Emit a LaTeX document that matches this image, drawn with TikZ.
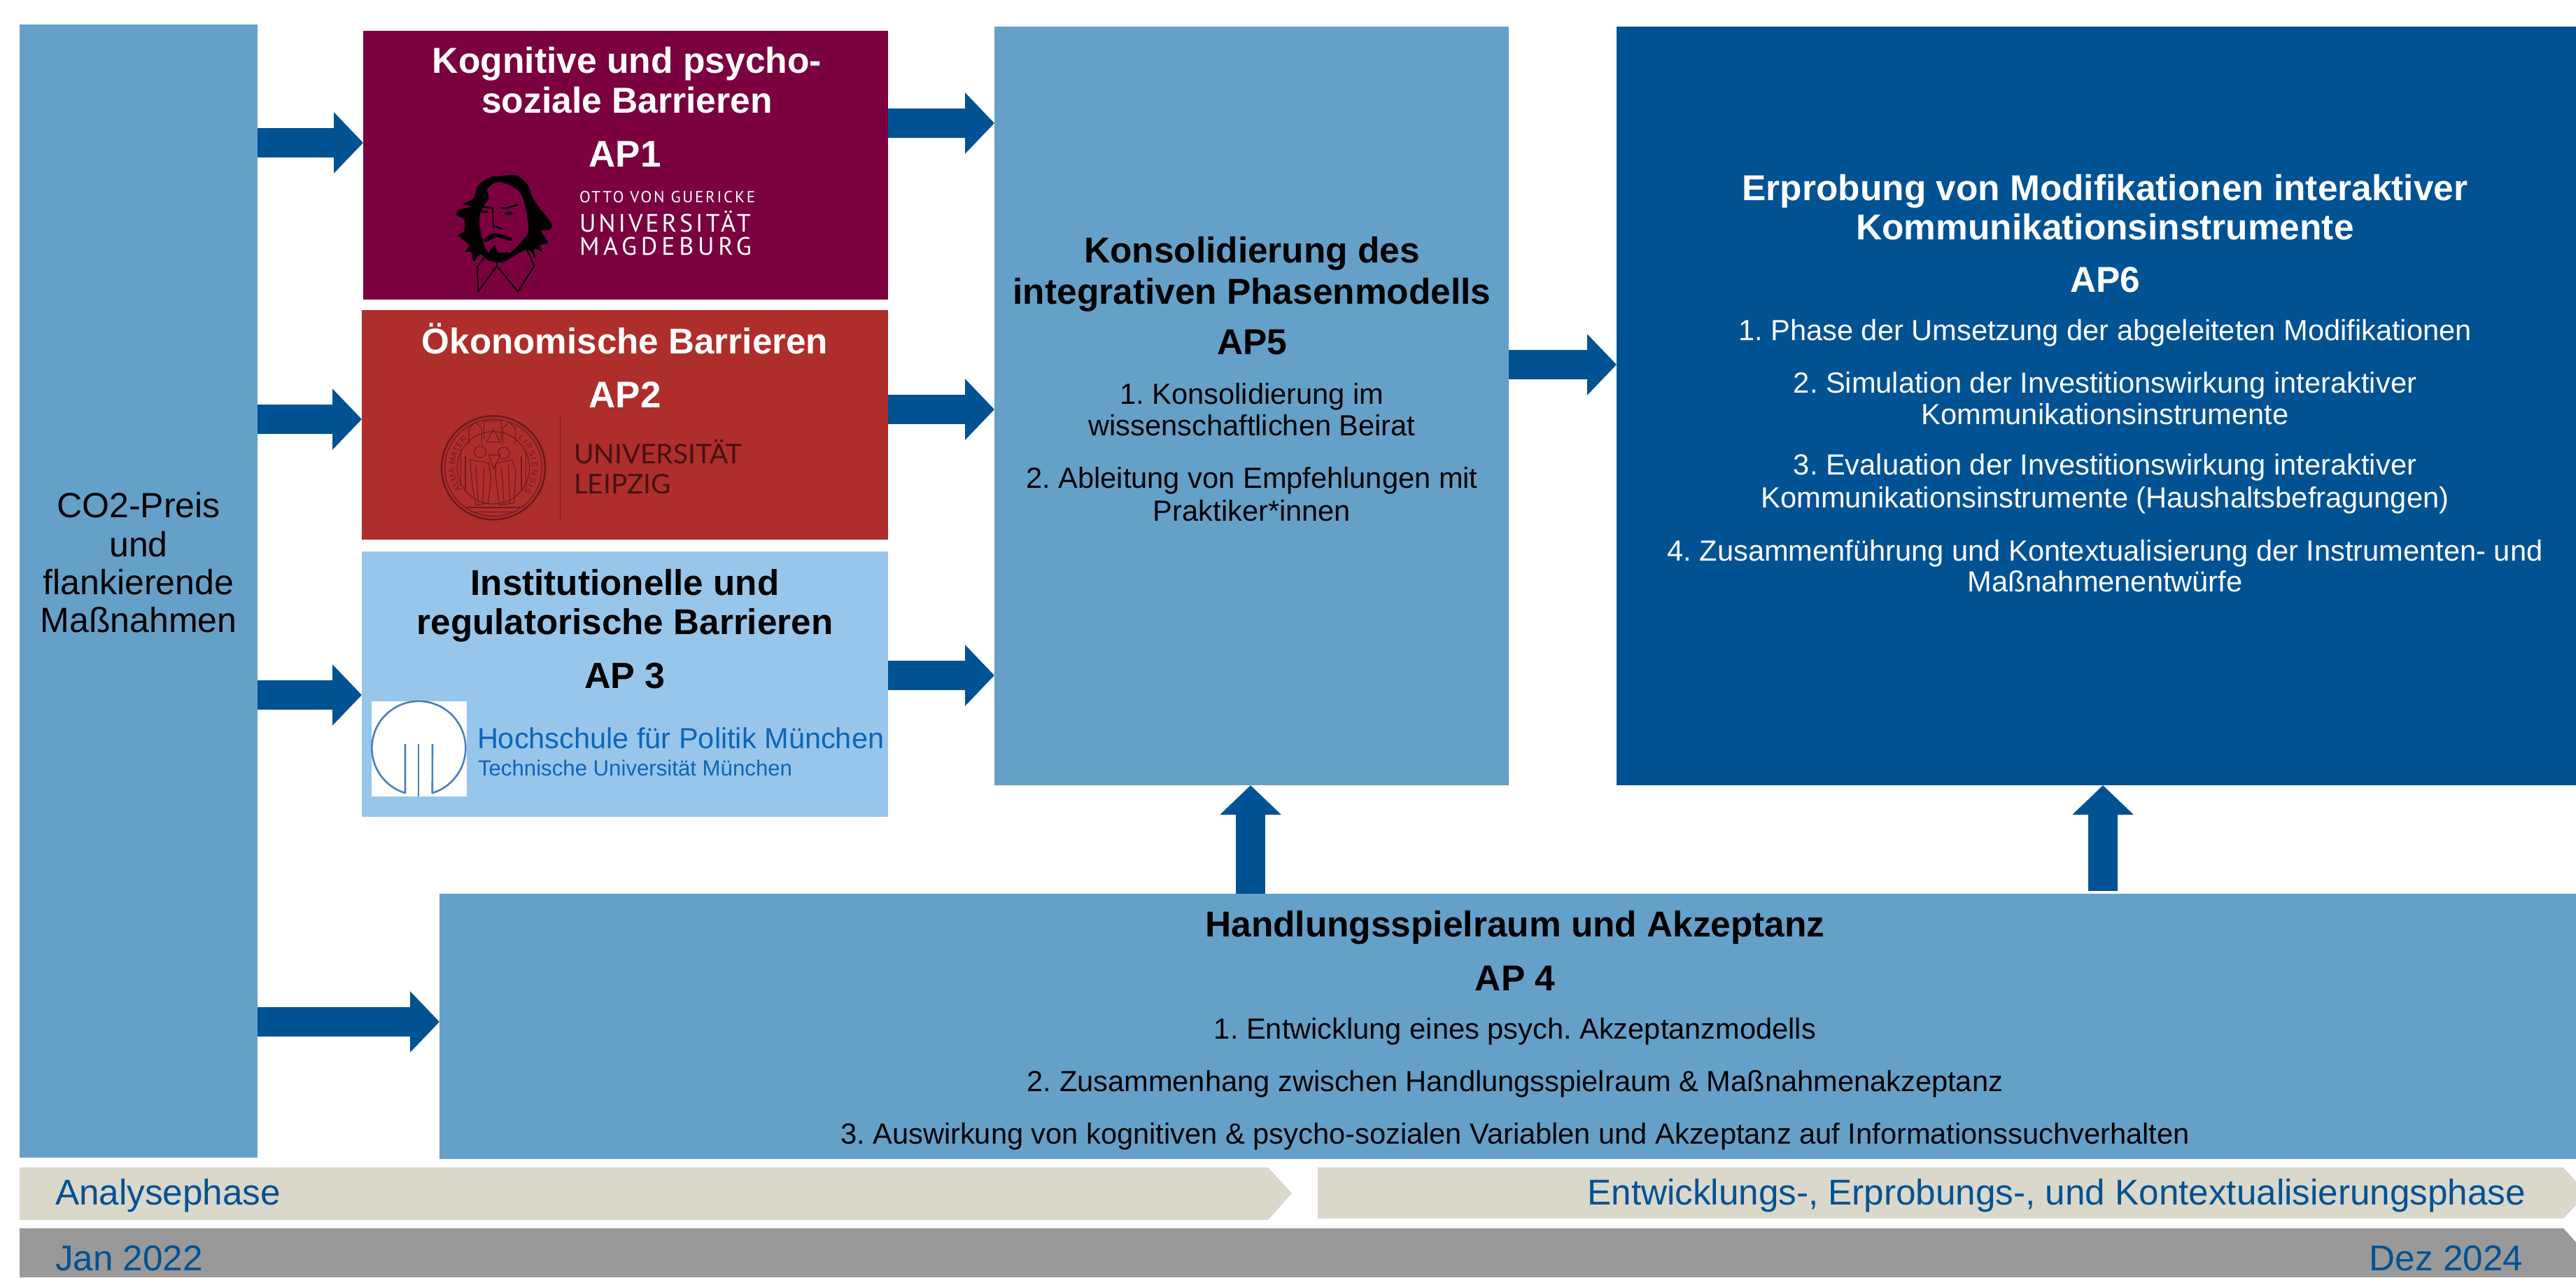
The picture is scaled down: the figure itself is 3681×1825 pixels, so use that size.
\documentclass[tikz,border=0pt]{standalone}
\usepackage{fontspec}
\setmainfont{Liberation Sans}
\usetikzlibrary{arrows.meta,calc,decorations.text}
\definecolor{lblue}{HTML}{65A0C9}
\definecolor{dblue}{HTML}{005293}
\definecolor{maroon}{HTML}{7A003F}
\definecolor{brick}{HTML}{AE2E2B}
\definecolor{skyb}{HTML}{98C6EA}
\definecolor{beige}{HTML}{DAD7CB}
\definecolor{greyb}{HTML}{999999}
\definecolor{sealc}{HTML}{6E1A1C}
\definecolor{hfpt}{HTML}{0D65B8}
\definecolor{hfpl}{HTML}{4A80B8}
\newcommand{\pxbox}[6]{\node[pbox,fill=#6,minimum width={(#4-#2)*0.5pt},minimum height={(#5-#3)*0.5pt}] (#1) at ({(#2+#4)/2},{(#3+#5)/2}) {};}
\tikzset{
  pbox/.style={rectangle,draw=none,inner sep=0pt,outer sep=0pt},
  tx/.style={inner sep=0pt,outer sep=0pt,anchor=center,font=\frenchspacing\fontsize{#1}{#1}\selectfont,text height=#1*0.72pt,text depth=#1*0.0pt},
  txb/.style={tx=#1,font=\frenchspacing\fontsize{#1}{#1}\selectfont\bfseries},
  blockarr/.style={draw=dblue,line width=21pt,-{Triangle[length=21pt,width=42.5pt,fill=dblue]}},
  sealline/.style={draw=sealc,line width=0.55pt,line join=round},
}
\begin{document}
\begin{tikzpicture}[x=0.5pt,y=-0.5pt]
\useasboundingbox (0,0) rectangle (3681,1825);
\fill[white] (0,0) rectangle (3681,1825);
% boxes
\pxbox{co2}{28}{35}{368}{1654}{lblue}
\pxbox{ap1}{519}{44}{1269}{428}{maroon}
\pxbox{ap2}{517}{443}{1269}{771}{brick}
\pxbox{ap3}{517}{788}{1269}{1167}{skyb}
\pxbox{ap5}{1421}{38}{2156}{1122}{lblue}
\pxbox{ap6}{2310}{38}{3681}{1122}{dblue}
\pxbox{ap4}{628}{1277}{3681}{1656}{lblue}
% phase bars
\fill[beige] (28,1668) -- (1812,1668) -- (1846,1705) -- (1812,1743) -- (28,1743) -- cycle;
\fill[beige] (1883,1668) -- (3663,1668) -- (3681,1688) -- (3681,1722) -- (3663,1741) -- (1883,1741) -- cycle;
\fill[greyb] (28,1755) -- (3663,1755) -- (3681,1775) -- (3681,1825) -- (28,1825) -- cycle;
% arrow rows
\coordinate (r1) at (0,204);
\coordinate (r2) at (0,599);
\coordinate (r3) at (0,993);
\coordinate (r4) at (0,1460);
\coordinate (s1) at (0,176);
\coordinate (s2) at (0,585);
\coordinate (s3) at (0,965);
\coordinate (t1) at (0,521);
\coordinate (c1) at (1787,0);
\coordinate (c2) at (3005,0);
\draw[blockarr] (co2.east |- r1) -- (ap1.west |- r1);
\draw[blockarr] (co2.east |- r2) -- (ap2.west |- r2);
\draw[blockarr] (co2.east |- r3) -- (ap3.west |- r3);
\draw[blockarr] (co2.east |- r4) -- (ap4.west |- r4);
\draw[blockarr] (ap1.east |- s1) -- (ap5.west |- s1);
\draw[blockarr] (ap2.east |- s2) -- (ap5.west |- s2);
\draw[blockarr] (ap3.east |- s3) -- (ap5.west |- s3);
\draw[blockarr] (ap5.east |- t1) -- (ap6.west |- t1);
\draw[blockarr] (ap4.north -| c1) -- (ap5.south -| c1);
\draw[blockarr,shorten <=2pt] (ap4.north -| c2) -- (ap6.south -| c2);
% left box
\node[tx=25] (l1) at (198,721) {CO2-Preis};
\node[tx=25] (l2) at (198,777) {und};
\node[tx=25] (l3) at (198,831) {flankierende};
\node[tx=25] (l4) at (198,885) {Maßnahmen};
% AP1
\node[txb=25.8,text=white] (a1a) at (896,86) {Kognitive und psycho-};
\node[txb=25.8,text=white] (a1b) at (896,143) {soziale Barrieren};
\node[txb=26.5,text=white] (a1c) at (893,219) {AP1};
\begin{scope}[shift={(640,240)},x=0.16667pt,y=-0.16667pt]
\fill[black] plot[smooth cycle,tension=0.5] coordinates {(225,35)(290,30)(340,70)(365,130)(400,180)(445,240)(435,265)(400,270)(430,320)(395,330)(405,360)(370,345)(375,385)(340,350)(280,380)(230,405)(170,395)(140,370)(110,400)(100,360)(75,360)(90,330)(45,290)(70,270)(70,220)(40,205)(45,180)(105,165)(65,155)(110,130)(130,75)(180,40)};
\fill[maroon] plot[smooth cycle,tension=0.6] coordinates {(170,90)(220,60)(300,95)(330,160)(345,265)(320,310)(270,360)(230,370)(170,360)(135,240)(150,170)(175,130)};
\fill[black] plot[smooth cycle,tension=0.6] coordinates {(155,305)(200,280)(270,300)(265,312)(210,297)(165,317)};
\fill[black] plot[smooth cycle,tension=0.5] coordinates {(165,385)(200,330)(215,362)(262,362)(240,395)(200,402)};
\fill[black] (158,188) ellipse[x radius=15,y radius=6];
\fill[black] (262,195) ellipse[x radius=18,y radius=6];
\draw[black,line width=1.2pt] (148,165) to[out=-20,in=160] (190,172);
\draw[black,line width=1.2pt] (228,172) to[out=-10,in=190] (300,158);
\draw[black,line width=0.8pt] (192,170) -- (195,255) to[out=60,in=180] (235,262);
\draw[black,line width=0.9pt,line join=round] (155,385) -- (125,425) -- (130,530) -- (210,420) -- (300,530) -- (370,420) -- (338,350);
\draw[black,line width=0.9pt] (210,405) -- (210,420);
\end{scope}
\node[tx=11.5,text=white,anchor=west] (m1) at (828,281) {\fontspec{PT Sans}[LetterSpace=12]OTTO VON GUERICKE};
\node[tx=18,text=white,anchor=west] (m2) at (828,319) {\fontspec{PT Sans}[LetterSpace=11]UNIVERSITÄT};
\node[tx=18,text=white,anchor=west] (m3) at (828,352) {\fontspec{PT Sans}[LetterSpace=16]MAGDEBURG};
% AP2
\node[txb=25.6,text=white] (a2a) at (893,487) {Ökonomische Barrieren};
\node[txb=26.5,text=white] (a2b) at (893,563) {AP2};
\begin{scope}[shift={(620,585)},x=0.16667pt,y=-0.16667pt]
\draw[sealc,line width=1.3pt] (255,250) circle[radius=222];
\draw[sealc,line width=0.6pt] (255,250) circle[radius=208];
\draw[sealc,line width=0.6pt] (255,250) circle[radius=155];
\path[decorate,decoration={text along path,text align={fit to path},text={|\fontsize{6}{6}\selectfont\color{sealc}|ALMA MATER}}]
  (255,250) ++(145:165) arc[start angle=145,end angle=228,radius=165];
\path[decorate,decoration={text along path,text align={fit to path},text={|\fontsize{6}{6}\selectfont\color{sealc}|LIPSIENSIS}}]
  (255,250) ++(-50:165) arc[start angle=-50,end angle=38,radius=165];
\draw[sealline] (150,150) -- (150,80) -- (178,55) -- (205,80) -- (205,150);
\draw[sealline] (295,150) -- (295,80) -- (323,55) -- (350,80) -- (350,150);
\draw[sealline] (215,130) -- (215,50) -- (290,50) -- (290,130);
\draw[sealline] (225,140) -- (255,85) -- (285,140) -- cycle;
\draw[sealline] (198,182) circle[radius=25];
\draw[sealline] (300,187) circle[radius=25];
\draw[sealline] (155,215) -- (235,230) -- (245,300) -- (232,400) -- (180,410) -- (165,330) -- cycle;
\draw[sealline] (265,232) -- (335,215) -- (350,260) -- (345,400) -- (280,410) -- (265,290) -- cycle;
\draw[sealline] (180,240) -- (190,400) (215,250) -- (210,400) (290,250) -- (300,400) (320,240) -- (325,400);
\draw[sealline] (235,195) -- (285,195) -- (255,255) -- cycle;
\draw[sealline] (140,420) -- (370,420) (160,440) -- (350,440);
\draw[sealline] (115,170) -- (115,330) (135,200) -- (135,350) (395,170) -- (395,330) (375,200) -- (375,350);
\end{scope}
\draw[sealc,line width=0.5pt] (800,595) -- (800,745);
\node[tx=19.4,text=sealc!65!black,anchor=west] (l1u) at (820,649) {\fontspec{Lato}UNIVERSITÄT};
\node[tx=19.4,text=sealc!65!black,anchor=west] (l2u) at (820,692) {\fontspec{Lato}LEIPZIG};
% AP3
\node[txb=25.6] (a3a) at (893,832) {Institutionelle und};
\node[txb=25.6] (a3b) at (893,888) {regulatorische Barrieren};
\node[txb=26] (a3c) at (893,965) {AP 3};
\pxbox{hfp}{531}{1002}{667}{1138}{white}
\draw[hfpl,line width=1.3pt,line join=round] (579,1063) -- (579,1133) arc[start angle=106.8,end angle=433.2,x radius=67,y radius=67] -- (618,1063);
\draw[hfpl,line width=1.3pt] (598,1063) -- (598,1138);
\node[tx=20.75,text=hfpt,anchor=west] (h1) at (682,1055) {Hochschule für Politik München};
\node[tx=15.6,text=hfpt,anchor=west] (h2) at (683,1097) {Technische Universität München};
% AP5
\node[txb=25.7] (a5a) at (1789,357) {Konsolidierung des};
\node[txb=25.7] (a5b) at (1789,416) {integrativen Phasenmodells};
\node[txb=25.7] (a5c) at (1789,488) {AP5};
\node[tx=20.8] (a5d) at (1789,563) {1. Konsolidierung im};
\node[tx=20.8] (a5e) at (1789,608) {wissenschaftlichen Beirat};
\node[tx=20.8] (a5f) at (1789,683) {2. Ableitung von Empfehlungen mit};
\node[tx=20.8] (a5g) at (1789,730) {Praktiker*innen};
% AP6
\node[txb=25.7,text=white] (a6a) at (3008,268) {Erprobung von Modifikationen interaktiver};
\node[txb=25.7,text=white] (a6b) at (3008,324) {Kommunikationsinstrumente};
\node[txb=25.7,text=white] (a6c) at (3008,399) {AP6};
\node[tx=20.8,text=white] (a6d) at (3008,472) {1. Phase der Umsetzung der abgeleiteten Modifikationen};
\node[tx=20.8,text=white] (a6e) at (3008,547) {2. Simulation der Investitionswirkung interaktiver};
\node[tx=20.8,text=white] (a6f) at (3008,592) {Kommunikationsinstrumente};
\node[tx=20.8,text=white] (a6g) at (3008,664) {3. Evaluation der Investitionswirkung interaktiver};
\node[tx=20.8,text=white] (a6h) at (3008,711) {Kommunikationsinstrumente (Haushaltsbefragungen)};
\node[tx=20.8,text=white] (a6i) at (3008,787) {4. Zusammenführung und Kontextualisierung der Instrumenten- und};
\node[tx=20.8,text=white] (a6j) at (3008,831) {Maßnahmenentwürfe};
% AP4
\node[txb=25.7] (a4a) at (2165,1320) {Handlungsspielraum und Akzeptanz};
\node[txb=25.7] (a4b) at (2165,1397) {AP 4};
\node[tx=20.8] (a4c) at (2165,1470) {1. Entwicklung eines psych. Akzeptanzmodells};
\node[tx=20.8] (a4d) at (2165,1545) {2. Zusammenhang zwischen Handlungsspielraum \& Maßnahmenakzeptanz};
\node[tx=20.8] (a4e) at (2165,1620) {3. Auswirkung von kognitiven \& psycho-sozialen Variablen und Akzeptanz auf Informationssuchverhalten};
% phases
\node[tx=25.6,text=dblue,anchor=west] (p1) at (79,1703) {Analysephase};
\node[tx=25.6,text=dblue,anchor=east] (p2) at (3609,1703) {Entwicklungs-, Erprobungs-, und Kontextualisierungsphase};
\node[tx=25.6,text=dblue,anchor=west] (p3) at (79,1797) {Jan 2022};
\node[tx=25.6,text=dblue,anchor=east] (p4) at (3605,1797) {Dez 2024};
\end{tikzpicture}
\end{document}
